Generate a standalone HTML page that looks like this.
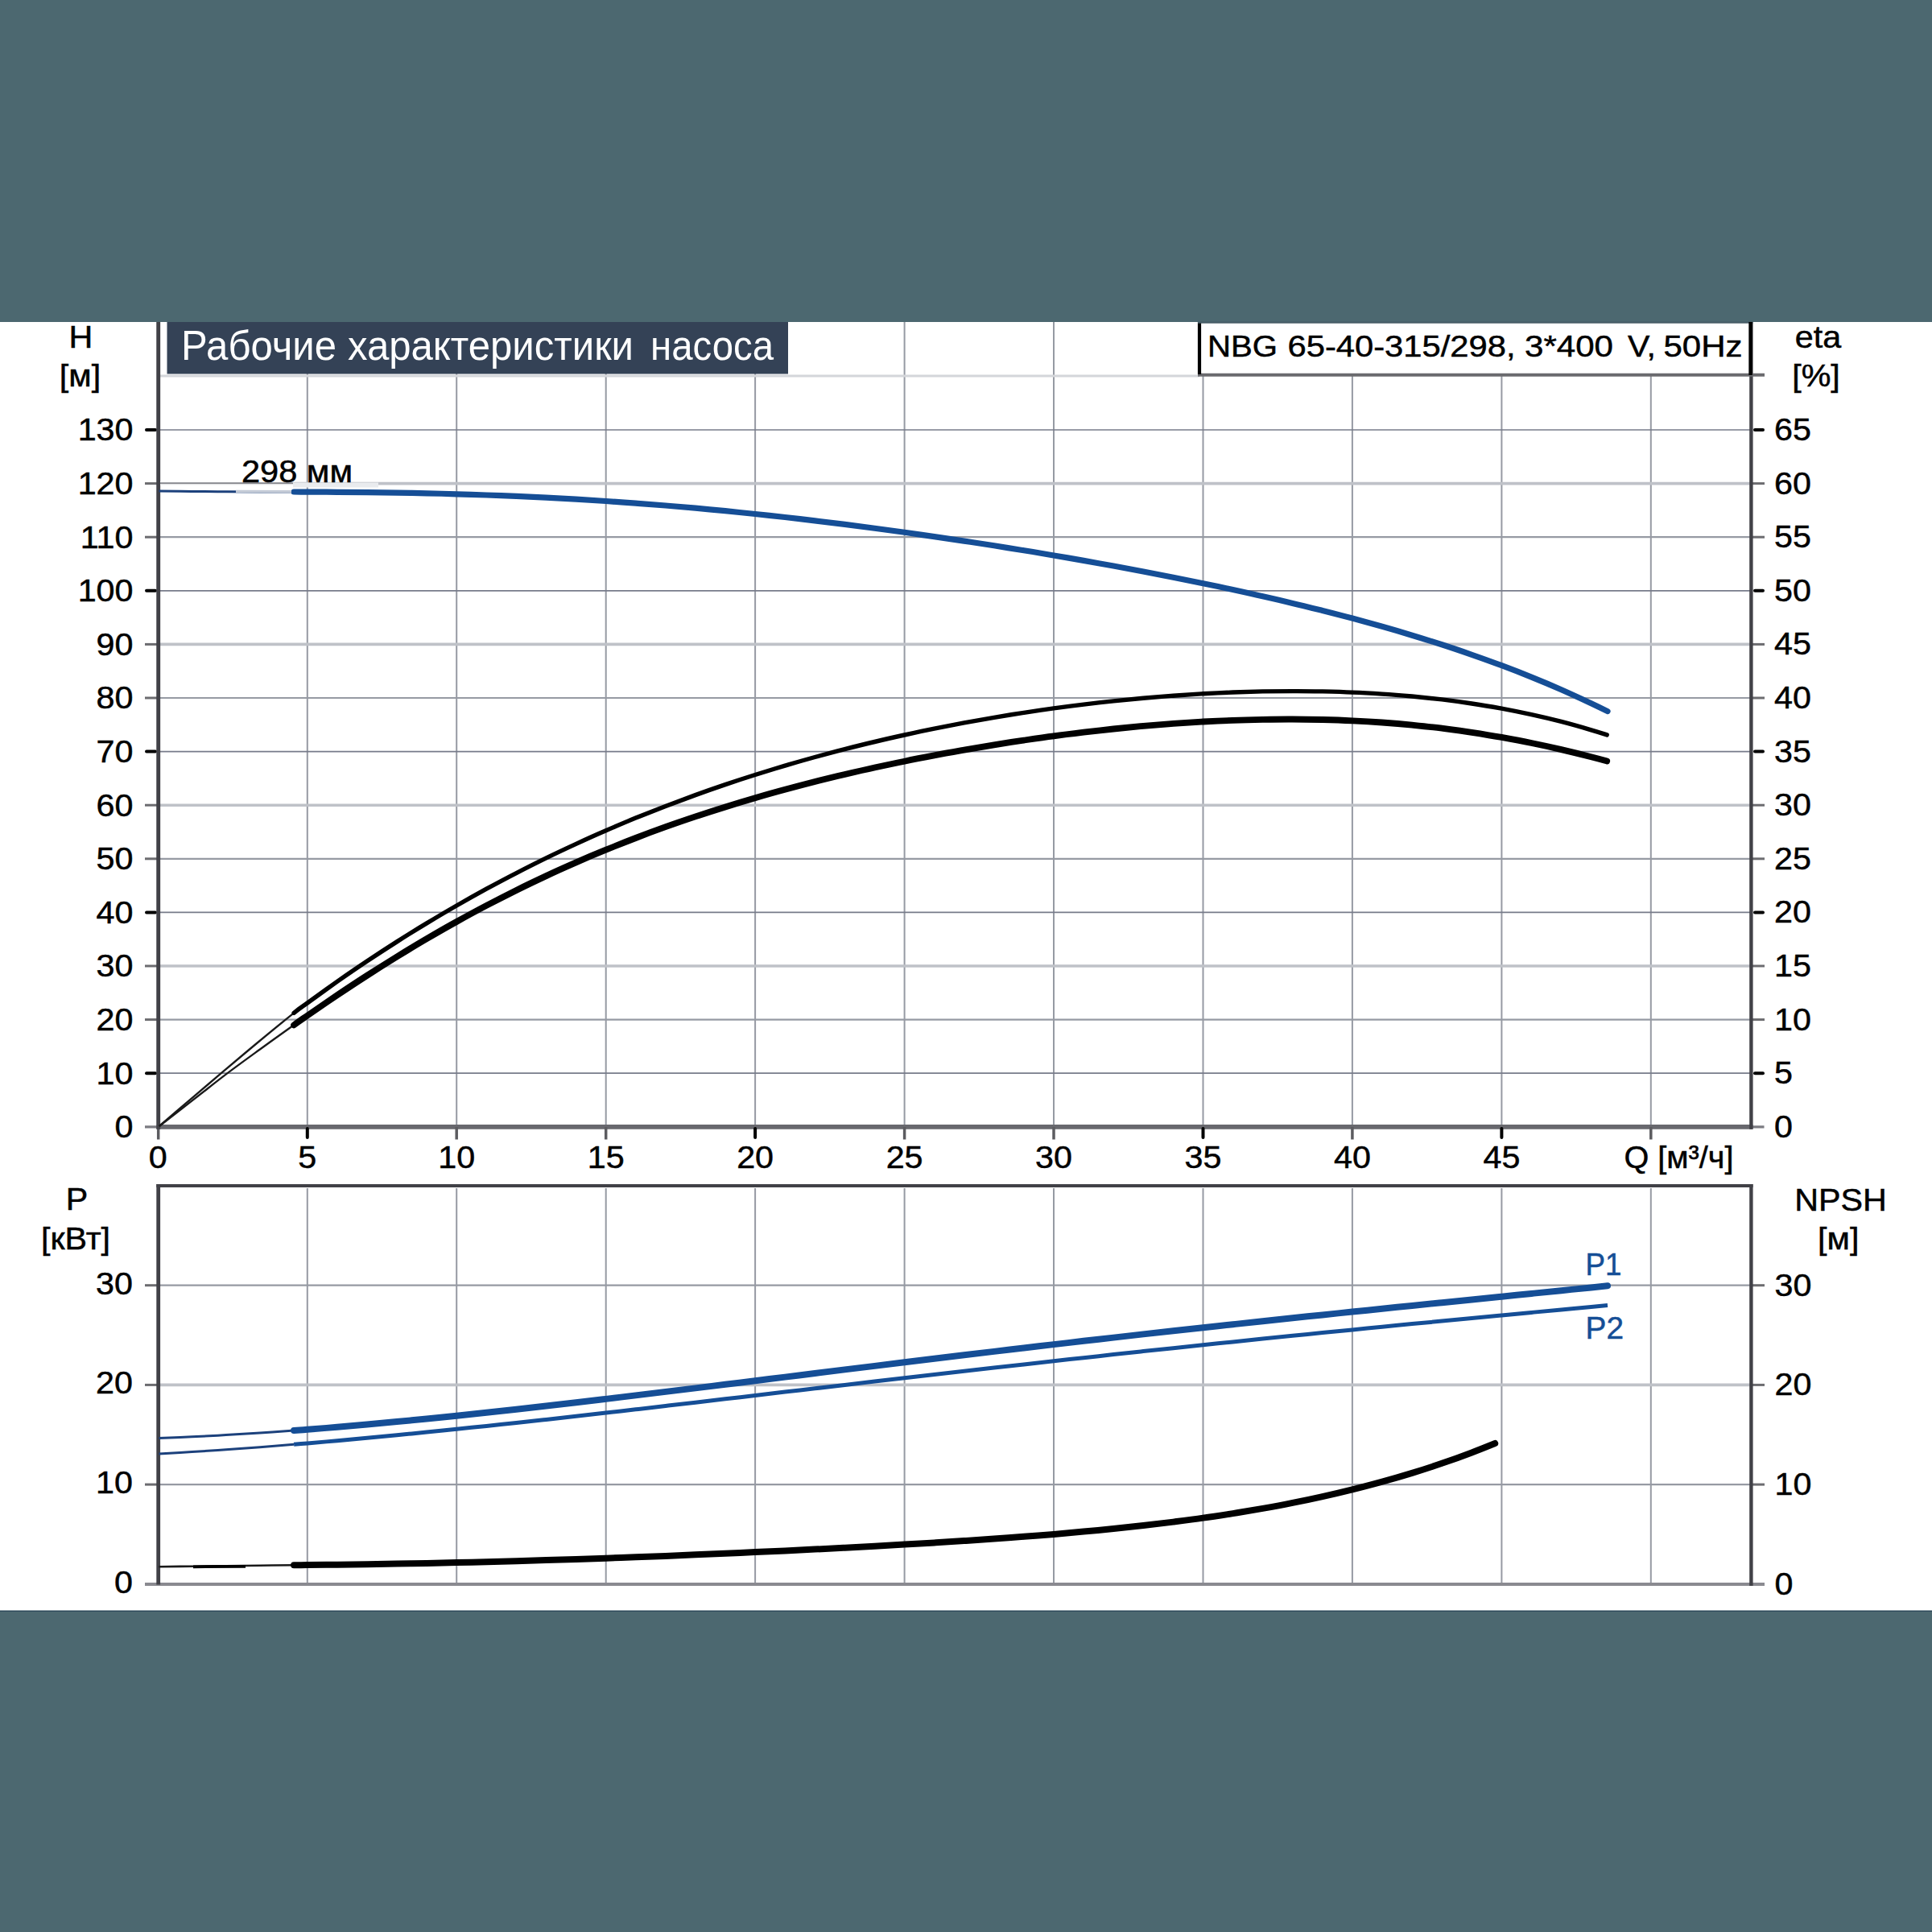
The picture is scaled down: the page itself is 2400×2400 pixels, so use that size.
<!DOCTYPE html>
<html><head><meta charset="utf-8"><title>Рабочие характеристики насоса</title>
<style>
html,body{margin:0;padding:0;background:#fff;}
body{width:2400px;height:2400px;overflow:hidden;}
svg{display:block;font-family:"Liberation Sans",sans-serif;}
</style></head><body>
<svg width="2400" height="2400" viewBox="0 0 2400 2400">
<rect x="0" y="0" width="2400" height="2400" fill="#fff"/>
<rect x="0" y="0" width="2400" height="400" fill="#4c6870"/>
<rect x="0" y="2000.7" width="2400" height="399.3" fill="#4c6870"/>
<rect x="0" y="2000.7" width="2400" height="1.2" fill="#2a4558"/>
<line x1="381.8" y1="400" x2="381.8" y2="1400" stroke="#969aa3" stroke-width="2"/>
<line x1="381.8" y1="1476" x2="381.8" y2="1968" stroke="#969aa3" stroke-width="2"/>
<line x1="567.2" y1="400" x2="567.2" y2="1400" stroke="#969aa3" stroke-width="2"/>
<line x1="567.2" y1="1476" x2="567.2" y2="1968" stroke="#969aa3" stroke-width="2"/>
<line x1="752.7" y1="400" x2="752.7" y2="1400" stroke="#969aa3" stroke-width="2"/>
<line x1="752.7" y1="1476" x2="752.7" y2="1968" stroke="#969aa3" stroke-width="2"/>
<line x1="938.1" y1="400" x2="938.1" y2="1400" stroke="#969aa3" stroke-width="2"/>
<line x1="938.1" y1="1476" x2="938.1" y2="1968" stroke="#969aa3" stroke-width="2"/>
<line x1="1123.6" y1="400" x2="1123.6" y2="1400" stroke="#969aa3" stroke-width="2"/>
<line x1="1123.6" y1="1476" x2="1123.6" y2="1968" stroke="#969aa3" stroke-width="2"/>
<line x1="1309.0" y1="400" x2="1309.0" y2="1400" stroke="#969aa3" stroke-width="2"/>
<line x1="1309.0" y1="1476" x2="1309.0" y2="1968" stroke="#969aa3" stroke-width="2"/>
<line x1="1494.5" y1="400" x2="1494.5" y2="1400" stroke="#969aa3" stroke-width="2"/>
<line x1="1494.5" y1="1476" x2="1494.5" y2="1968" stroke="#969aa3" stroke-width="2"/>
<line x1="1679.9" y1="400" x2="1679.9" y2="1400" stroke="#969aa3" stroke-width="2"/>
<line x1="1679.9" y1="1476" x2="1679.9" y2="1968" stroke="#969aa3" stroke-width="2"/>
<line x1="1865.4" y1="400" x2="1865.4" y2="1400" stroke="#969aa3" stroke-width="2"/>
<line x1="1865.4" y1="1476" x2="1865.4" y2="1968" stroke="#969aa3" stroke-width="2"/>
<line x1="2050.8" y1="400" x2="2050.8" y2="1400" stroke="#969aa3" stroke-width="2"/>
<line x1="2050.8" y1="1476" x2="2050.8" y2="1968" stroke="#969aa3" stroke-width="2"/>
<line x1="196.7" y1="467" x2="1490.0" y2="467" stroke="#d4d6da" stroke-width="3"/>
<line x1="196.7" y1="1333.2" x2="2175.4" y2="1333.2" stroke="#777b8a" stroke-width="1.7"/>
<line x1="182" y1="1333.2" x2="193" y2="1333.2" stroke="#000" stroke-width="4" stroke-linecap="round"/>
<line x1="2180" y1="1333.2" x2="2190" y2="1333.2" stroke="#000" stroke-width="4" stroke-linecap="round"/>
<line x1="196.7" y1="1266.6" x2="2175.4" y2="1266.6" stroke="#969aa3" stroke-width="2.2"/>
<line x1="180" y1="1266.6" x2="196.7" y2="1266.6" stroke="#6c6c70" stroke-width="3"/>
<line x1="2175.4" y1="1266.6" x2="2192" y2="1266.6" stroke="#6c6c70" stroke-width="3"/>
<line x1="196.7" y1="1200.0" x2="2175.4" y2="1200.0" stroke="#bfc2c8" stroke-width="3.6"/>
<line x1="180" y1="1200.0" x2="196.7" y2="1200.0" stroke="#6c6c70" stroke-width="3"/>
<line x1="2175.4" y1="1200.0" x2="2192" y2="1200.0" stroke="#6c6c70" stroke-width="3"/>
<line x1="196.7" y1="1133.4" x2="2175.4" y2="1133.4" stroke="#777b8a" stroke-width="1.7"/>
<line x1="182" y1="1133.4" x2="193" y2="1133.4" stroke="#000" stroke-width="4" stroke-linecap="round"/>
<line x1="2180" y1="1133.4" x2="2190" y2="1133.4" stroke="#000" stroke-width="4" stroke-linecap="round"/>
<line x1="196.7" y1="1066.8" x2="2175.4" y2="1066.8" stroke="#969aa3" stroke-width="2.2"/>
<line x1="180" y1="1066.8" x2="196.7" y2="1066.8" stroke="#6c6c70" stroke-width="3"/>
<line x1="2175.4" y1="1066.8" x2="2192" y2="1066.8" stroke="#6c6c70" stroke-width="3"/>
<line x1="196.7" y1="1000.2" x2="2175.4" y2="1000.2" stroke="#bfc2c8" stroke-width="3.6"/>
<line x1="180" y1="1000.2" x2="196.7" y2="1000.2" stroke="#6c6c70" stroke-width="3"/>
<line x1="2175.4" y1="1000.2" x2="2192" y2="1000.2" stroke="#6c6c70" stroke-width="3"/>
<line x1="196.7" y1="933.6" x2="2175.4" y2="933.6" stroke="#777b8a" stroke-width="1.7"/>
<line x1="182" y1="933.6" x2="193" y2="933.6" stroke="#000" stroke-width="4" stroke-linecap="round"/>
<line x1="2180" y1="933.6" x2="2190" y2="933.6" stroke="#000" stroke-width="4" stroke-linecap="round"/>
<line x1="196.7" y1="867.0" x2="2175.4" y2="867.0" stroke="#969aa3" stroke-width="2.2"/>
<line x1="180" y1="867.0" x2="196.7" y2="867.0" stroke="#6c6c70" stroke-width="3"/>
<line x1="2175.4" y1="867.0" x2="2192" y2="867.0" stroke="#6c6c70" stroke-width="3"/>
<line x1="196.7" y1="800.4" x2="2175.4" y2="800.4" stroke="#bfc2c8" stroke-width="3.6"/>
<line x1="180" y1="800.4" x2="196.7" y2="800.4" stroke="#6c6c70" stroke-width="3"/>
<line x1="2175.4" y1="800.4" x2="2192" y2="800.4" stroke="#6c6c70" stroke-width="3"/>
<line x1="196.7" y1="733.8" x2="2175.4" y2="733.8" stroke="#777b8a" stroke-width="1.7"/>
<line x1="182" y1="733.8" x2="193" y2="733.8" stroke="#000" stroke-width="4" stroke-linecap="round"/>
<line x1="2180" y1="733.8" x2="2190" y2="733.8" stroke="#000" stroke-width="4" stroke-linecap="round"/>
<line x1="196.7" y1="667.2" x2="2175.4" y2="667.2" stroke="#969aa3" stroke-width="2.2"/>
<line x1="180" y1="667.2" x2="196.7" y2="667.2" stroke="#6c6c70" stroke-width="3"/>
<line x1="2175.4" y1="667.2" x2="2192" y2="667.2" stroke="#6c6c70" stroke-width="3"/>
<line x1="196.7" y1="600.6" x2="2175.4" y2="600.6" stroke="#bfc2c8" stroke-width="3.6"/>
<line x1="180" y1="600.6" x2="196.7" y2="600.6" stroke="#6c6c70" stroke-width="3"/>
<line x1="2175.4" y1="600.6" x2="2192" y2="600.6" stroke="#6c6c70" stroke-width="3"/>
<line x1="196.7" y1="534.0" x2="2175.4" y2="534.0" stroke="#777b8a" stroke-width="1.7"/>
<line x1="182" y1="534.0" x2="193" y2="534.0" stroke="#000" stroke-width="4" stroke-linecap="round"/>
<line x1="2180" y1="534.0" x2="2190" y2="534.0" stroke="#000" stroke-width="4" stroke-linecap="round"/>
<line x1="196.7" y1="1844.1" x2="2175.4" y2="1844.1" stroke="#969aa3" stroke-width="2.2"/>
<line x1="180" y1="1844.1" x2="196.7" y2="1844.1" stroke="#6c6c70" stroke-width="3"/>
<line x1="2175.4" y1="1844.1" x2="2192" y2="1844.1" stroke="#6c6c70" stroke-width="3"/>
<line x1="196.7" y1="1720.4" x2="2175.4" y2="1720.4" stroke="#bfc2c8" stroke-width="3.6"/>
<line x1="180" y1="1720.4" x2="196.7" y2="1720.4" stroke="#6c6c70" stroke-width="3"/>
<line x1="2175.4" y1="1720.4" x2="2192" y2="1720.4" stroke="#6c6c70" stroke-width="3"/>
<line x1="196.7" y1="1596.7" x2="2175.4" y2="1596.7" stroke="#969aa3" stroke-width="2.2"/>
<line x1="180" y1="1596.7" x2="196.7" y2="1596.7" stroke="#6c6c70" stroke-width="3"/>
<line x1="2175.4" y1="1596.7" x2="2192" y2="1596.7" stroke="#6c6c70" stroke-width="3"/>
<line x1="180" y1="1399.9" x2="2191.5" y2="1399.9" stroke="#7c7c82" stroke-width="3.4"/>
<line x1="194.7" y1="1399.8" x2="2177.4" y2="1399.8" stroke="#68686e" stroke-width="5.8"/>
<line x1="196.7" y1="1400" x2="196.7" y2="1415.5" stroke="#5c5c60" stroke-width="3.5"/>
<line x1="381.8" y1="1402" x2="381.8" y2="1413" stroke="#000" stroke-width="4" stroke-linecap="round"/>
<line x1="567.2" y1="1400" x2="567.2" y2="1415.5" stroke="#5c5c60" stroke-width="3.5"/>
<line x1="752.7" y1="1400" x2="752.7" y2="1415.5" stroke="#5c5c60" stroke-width="3.5"/>
<line x1="938.1" y1="1402" x2="938.1" y2="1413" stroke="#000" stroke-width="4" stroke-linecap="round"/>
<line x1="1123.6" y1="1400" x2="1123.6" y2="1415.5" stroke="#5c5c60" stroke-width="3.5"/>
<line x1="1309.0" y1="1400" x2="1309.0" y2="1415.5" stroke="#5c5c60" stroke-width="3.5"/>
<line x1="1494.5" y1="1402" x2="1494.5" y2="1413" stroke="#000" stroke-width="4" stroke-linecap="round"/>
<line x1="1679.9" y1="1400" x2="1679.9" y2="1415.5" stroke="#5c5c60" stroke-width="3.5"/>
<line x1="1865.4" y1="1402" x2="1865.4" y2="1413" stroke="#000" stroke-width="4" stroke-linecap="round"/>
<line x1="2050.8" y1="1400" x2="2050.8" y2="1415.5" stroke="#5c5c60" stroke-width="3.5"/>
<line x1="196.7" y1="400" x2="196.7" y2="1402.7" stroke="#414147" stroke-width="4.9"/>
<line x1="2175.4" y1="400" x2="2175.4" y2="1402.7" stroke="#414147" stroke-width="4.4"/>
<line x1="180" y1="1968" x2="2192" y2="1968" stroke="#8a8a90" stroke-width="4.1"/>
<line x1="194.3" y1="1473" x2="2177.6" y2="1473" stroke="#414147" stroke-width="4"/>
<line x1="196.7" y1="1471" x2="196.7" y2="1968.5" stroke="#414147" stroke-width="4.8"/>
<line x1="2175.4" y1="1471" x2="2175.4" y2="1970" stroke="#414147" stroke-width="4.4"/>
<rect x="207.5" y="400" width="771.5" height="64.5" fill="#344256"/>
<text transform="translate(225.0 446.5) scale(1 1)" font-size="52" text-anchor="start" fill="#fff" textLength="193.0" lengthAdjust="spacingAndGlyphs">Рабочие</text>
<text transform="translate(432.0 446.5) scale(1 1)" font-size="52" text-anchor="start" fill="#fff" textLength="355.0" lengthAdjust="spacingAndGlyphs">характеристики</text>
<text transform="translate(808.0 446.5) scale(1 1)" font-size="52" text-anchor="start" fill="#fff" textLength="153.0" lengthAdjust="spacingAndGlyphs">насоса</text>
<rect x="1490" y="400" width="686" height="65.5" fill="#fff"/>
<line x1="1488" y1="465.7" x2="2192" y2="465.7" stroke="#6a6a6e" stroke-width="4"/>
<line x1="1490" y1="400" x2="1490" y2="465" stroke="#000" stroke-width="4.2"/>
<rect x="1488" y="399.5" width="689.5" height="2.2" fill="#465c66"/>
<line x1="2174.6" y1="400" x2="2174.6" y2="466" stroke="#000" stroke-width="4.5"/>
<text transform="translate(1500.0 443.0) scale(1 1)" font-size="37.5" text-anchor="start" fill="#000" stroke="#000" stroke-width="0.5" textLength="87.0" lengthAdjust="spacingAndGlyphs">NBG</text>
<text transform="translate(1599.5 443.0) scale(1 1)" font-size="37.5" text-anchor="start" fill="#000" stroke="#000" stroke-width="0.5" textLength="283.0" lengthAdjust="spacingAndGlyphs">65-40-315/298,</text>
<text transform="translate(1894.0 443.0) scale(1 1)" font-size="37.5" text-anchor="start" fill="#000" stroke="#000" stroke-width="0.5" textLength="110.0" lengthAdjust="spacingAndGlyphs">3*400</text>
<text transform="translate(2022.0 443.0) scale(1 1)" font-size="37.5" text-anchor="start" fill="#000" stroke="#000" stroke-width="0.5" textLength="35.0" lengthAdjust="spacingAndGlyphs">V,</text>
<text transform="translate(2066.5 443.0) scale(1 1)" font-size="37.5" text-anchor="start" fill="#000" stroke="#000" stroke-width="0.5" textLength="98.0" lengthAdjust="spacingAndGlyphs">50Hz</text>
<text transform="translate(165.5 1413.2) scale(1.045 1)" font-size="39.5" text-anchor="end" fill="#000" stroke="#000" stroke-width="0.5">0</text>
<text transform="translate(2204.0 1412.8) scale(1.045 1)" font-size="39.5" text-anchor="start" fill="#000" stroke="#000" stroke-width="0.5">0</text>
<text transform="translate(165.5 1346.6) scale(1.045 1)" font-size="39.5" text-anchor="end" fill="#000" stroke="#000" stroke-width="0.5">10</text>
<text transform="translate(2204.0 1346.2) scale(1.045 1)" font-size="39.5" text-anchor="start" fill="#000" stroke="#000" stroke-width="0.5">5</text>
<text transform="translate(165.5 1280.0) scale(1.045 1)" font-size="39.5" text-anchor="end" fill="#000" stroke="#000" stroke-width="0.5">20</text>
<text transform="translate(2204.0 1279.6) scale(1.045 1)" font-size="39.5" text-anchor="start" fill="#000" stroke="#000" stroke-width="0.5">10</text>
<text transform="translate(165.5 1213.4) scale(1.045 1)" font-size="39.5" text-anchor="end" fill="#000" stroke="#000" stroke-width="0.5">30</text>
<text transform="translate(2204.0 1213.0) scale(1.045 1)" font-size="39.5" text-anchor="start" fill="#000" stroke="#000" stroke-width="0.5">15</text>
<text transform="translate(165.5 1146.8) scale(1.045 1)" font-size="39.5" text-anchor="end" fill="#000" stroke="#000" stroke-width="0.5">40</text>
<text transform="translate(2204.0 1146.4) scale(1.045 1)" font-size="39.5" text-anchor="start" fill="#000" stroke="#000" stroke-width="0.5">20</text>
<text transform="translate(165.5 1080.2) scale(1.045 1)" font-size="39.5" text-anchor="end" fill="#000" stroke="#000" stroke-width="0.5">50</text>
<text transform="translate(2204.0 1079.8) scale(1.045 1)" font-size="39.5" text-anchor="start" fill="#000" stroke="#000" stroke-width="0.5">25</text>
<text transform="translate(165.5 1013.6) scale(1.045 1)" font-size="39.5" text-anchor="end" fill="#000" stroke="#000" stroke-width="0.5">60</text>
<text transform="translate(2204.0 1013.2) scale(1.045 1)" font-size="39.5" text-anchor="start" fill="#000" stroke="#000" stroke-width="0.5">30</text>
<text transform="translate(165.5 947.0) scale(1.045 1)" font-size="39.5" text-anchor="end" fill="#000" stroke="#000" stroke-width="0.5">70</text>
<text transform="translate(2204.0 946.6) scale(1.045 1)" font-size="39.5" text-anchor="start" fill="#000" stroke="#000" stroke-width="0.5">35</text>
<text transform="translate(165.5 880.4) scale(1.045 1)" font-size="39.5" text-anchor="end" fill="#000" stroke="#000" stroke-width="0.5">80</text>
<text transform="translate(2204.0 880.0) scale(1.045 1)" font-size="39.5" text-anchor="start" fill="#000" stroke="#000" stroke-width="0.5">40</text>
<text transform="translate(165.5 813.8) scale(1.045 1)" font-size="39.5" text-anchor="end" fill="#000" stroke="#000" stroke-width="0.5">90</text>
<text transform="translate(2204.0 813.4) scale(1.045 1)" font-size="39.5" text-anchor="start" fill="#000" stroke="#000" stroke-width="0.5">45</text>
<text transform="translate(165.5 747.2) scale(1.045 1)" font-size="39.5" text-anchor="end" fill="#000" stroke="#000" stroke-width="0.5">100</text>
<text transform="translate(2204.0 746.8) scale(1.045 1)" font-size="39.5" text-anchor="start" fill="#000" stroke="#000" stroke-width="0.5">50</text>
<text transform="translate(165.5 680.6) scale(1.045 1)" font-size="39.5" text-anchor="end" fill="#000" stroke="#000" stroke-width="0.5">110</text>
<text transform="translate(2204.0 680.2) scale(1.045 1)" font-size="39.5" text-anchor="start" fill="#000" stroke="#000" stroke-width="0.5">55</text>
<text transform="translate(165.5 614.0) scale(1.045 1)" font-size="39.5" text-anchor="end" fill="#000" stroke="#000" stroke-width="0.5">120</text>
<text transform="translate(2204.0 613.6) scale(1.045 1)" font-size="39.5" text-anchor="start" fill="#000" stroke="#000" stroke-width="0.5">60</text>
<text transform="translate(165.5 547.4) scale(1.045 1)" font-size="39.5" text-anchor="end" fill="#000" stroke="#000" stroke-width="0.5">130</text>
<text transform="translate(2204.0 547.0) scale(1.045 1)" font-size="39.5" text-anchor="start" fill="#000" stroke="#000" stroke-width="0.5">65</text>
<text transform="translate(165.0 1978.8) scale(1.045 1)" font-size="39.5" text-anchor="end" fill="#000" stroke="#000" stroke-width="0.5">0</text>
<text transform="translate(2204.5 1980.8) scale(1.045 1)" font-size="39.5" text-anchor="start" fill="#000" stroke="#000" stroke-width="0.5">0</text>
<text transform="translate(165.0 1855.1) scale(1.045 1)" font-size="39.5" text-anchor="end" fill="#000" stroke="#000" stroke-width="0.5">10</text>
<text transform="translate(2204.5 1857.1) scale(1.045 1)" font-size="39.5" text-anchor="start" fill="#000" stroke="#000" stroke-width="0.5">10</text>
<text transform="translate(165.0 1731.4) scale(1.045 1)" font-size="39.5" text-anchor="end" fill="#000" stroke="#000" stroke-width="0.5">20</text>
<text transform="translate(2204.5 1733.4) scale(1.045 1)" font-size="39.5" text-anchor="start" fill="#000" stroke="#000" stroke-width="0.5">20</text>
<text transform="translate(165.0 1607.7) scale(1.045 1)" font-size="39.5" text-anchor="end" fill="#000" stroke="#000" stroke-width="0.5">30</text>
<text transform="translate(2204.5 1609.7) scale(1.045 1)" font-size="39.5" text-anchor="start" fill="#000" stroke="#000" stroke-width="0.5">30</text>
<text transform="translate(196.3 1451.3) scale(1.045 1)" font-size="39.5" text-anchor="middle" fill="#000" stroke="#000" stroke-width="0.5">0</text>
<text transform="translate(381.8 1451.3) scale(1.045 1)" font-size="39.5" text-anchor="middle" fill="#000" stroke="#000" stroke-width="0.5">5</text>
<text transform="translate(567.2 1451.3) scale(1.045 1)" font-size="39.5" text-anchor="middle" fill="#000" stroke="#000" stroke-width="0.5">10</text>
<text transform="translate(752.7 1451.3) scale(1.045 1)" font-size="39.5" text-anchor="middle" fill="#000" stroke="#000" stroke-width="0.5">15</text>
<text transform="translate(938.1 1451.3) scale(1.045 1)" font-size="39.5" text-anchor="middle" fill="#000" stroke="#000" stroke-width="0.5">20</text>
<text transform="translate(1123.6 1451.3) scale(1.045 1)" font-size="39.5" text-anchor="middle" fill="#000" stroke="#000" stroke-width="0.5">25</text>
<text transform="translate(1309.0 1451.3) scale(1.045 1)" font-size="39.5" text-anchor="middle" fill="#000" stroke="#000" stroke-width="0.5">30</text>
<text transform="translate(1494.5 1451.3) scale(1.045 1)" font-size="39.5" text-anchor="middle" fill="#000" stroke="#000" stroke-width="0.5">35</text>
<text transform="translate(1679.9 1451.3) scale(1.045 1)" font-size="39.5" text-anchor="middle" fill="#000" stroke="#000" stroke-width="0.5">40</text>
<text transform="translate(1865.4 1451.3) scale(1.045 1)" font-size="39.5" text-anchor="middle" fill="#000" stroke="#000" stroke-width="0.5">45</text>
<text transform="translate(2017.5 1451.3) scale(1.045 1)" font-size="39.5" text-anchor="start" fill="#000" stroke="#000" stroke-width="0.5" textLength="130.1" lengthAdjust="spacingAndGlyphs">Q [м³/ч]</text>
<text transform="translate(100.5 431.5) scale(1.045 1)" font-size="39.5" text-anchor="middle" fill="#000" stroke="#000" stroke-width="0.5">H</text>
<text transform="translate(99.5 479.5) scale(1.045 1)" font-size="39.5" text-anchor="middle" fill="#000" stroke="#000" stroke-width="0.5">[м]</text>
<text transform="translate(2258.5 432.0) scale(1.045 1)" font-size="39.5" text-anchor="middle" fill="#000" stroke="#000" stroke-width="0.5">eta</text>
<text transform="translate(2256.0 479.8) scale(1.045 1)" font-size="39.5" text-anchor="middle" fill="#000" stroke="#000" stroke-width="0.5">[%]</text>
<text transform="translate(95.5 1502.5) scale(1.045 1)" font-size="39.5" text-anchor="middle" fill="#000" stroke="#000" stroke-width="0.5">P</text>
<text transform="translate(94.0 1552.0) scale(1.045 1)" font-size="39.5" text-anchor="middle" fill="#000" stroke="#000" stroke-width="0.5">[кВт]</text>
<text transform="translate(2286.5 1503.7) scale(1.045 1)" font-size="39.5" text-anchor="middle" fill="#000" stroke="#000" stroke-width="0.5">NPSH</text>
<text transform="translate(2283.7 1551.5) scale(1.045 1)" font-size="39.5" text-anchor="middle" fill="#000" stroke="#000" stroke-width="0.5">[м]</text>
<text transform="translate(1969.5 1583.5) scale(1 1)" font-size="39.5" text-anchor="start" fill="#154e96" stroke="#154e96" stroke-width="0.5" textLength="45.0" lengthAdjust="spacingAndGlyphs">P1</text>
<text transform="translate(1969.5 1663.0) scale(1 1)" font-size="39.5" text-anchor="start" fill="#154e96" stroke="#154e96" stroke-width="0.5" textLength="47.5" lengthAdjust="spacingAndGlyphs">P2</text>
<rect x="296" y="568" width="146" height="34" fill="#fff" fill-opacity="0.0"/>
<path d="M197.4 610.0 C204.3 610.1 224.6 610.4 238.5 610.5 C252.4 610.6 266.6 610.7 280.7 610.7 C294.7 610.8 308.8 610.8 322.9 610.9 C336.9 610.9 355.2 611.0 365.1 611.0" fill="none" stroke="#1c417c" stroke-width="3"/>
<path d="M365.1 611.0 C374.9 611.1 372.8 611.0 381.8 611.1 C390.7 611.1 406.5 611.2 418.8 611.3 C431.2 611.4 443.6 611.5 455.9 611.6 C468.3 611.8 480.7 611.9 493.0 612.1 C505.4 612.3 517.7 612.6 530.1 612.8 C542.5 613.1 554.8 613.4 567.2 613.8 C579.6 614.1 591.9 614.5 604.3 615.0 C616.7 615.4 629.0 615.9 641.4 616.4 C653.7 616.9 666.1 617.5 678.5 618.1 C690.8 618.8 703.2 619.4 715.6 620.2 C727.9 620.9 740.3 621.7 752.7 622.5 C765.0 623.3 777.4 624.2 789.7 625.1 C802.1 626.0 814.5 627.0 826.8 628.0 C839.2 629.0 851.6 630.1 863.9 631.2 C876.3 632.3 888.6 633.5 901.0 634.7 C913.4 635.9 925.7 637.2 938.1 638.5 C950.5 639.8 962.8 641.1 975.2 642.5 C987.6 643.9 999.9 645.4 1012.3 646.8 C1024.6 648.3 1037.0 649.8 1049.4 651.4 C1061.7 653.0 1074.1 654.6 1086.5 656.2 C1098.8 657.9 1111.2 659.6 1123.6 661.3 C1135.9 663.0 1148.3 664.8 1160.6 666.6 C1173.0 668.4 1185.4 670.2 1197.7 672.1 C1210.1 673.9 1222.5 675.9 1234.8 677.8 C1247.2 679.8 1259.5 681.7 1271.9 683.8 C1284.3 685.8 1296.6 687.8 1309.0 690.0 C1321.4 692.1 1333.7 694.2 1346.1 696.4 C1358.5 698.6 1370.8 700.8 1383.2 703.0 C1395.5 705.3 1407.9 707.6 1420.3 710.0 C1432.6 712.3 1445.0 714.7 1457.4 717.2 C1469.7 719.6 1482.1 722.1 1494.5 724.7 C1506.8 727.3 1519.2 729.9 1531.5 732.5 C1543.9 735.2 1556.3 737.9 1568.6 740.8 C1581.0 743.6 1593.4 746.4 1605.7 749.4 C1618.1 752.3 1630.4 755.4 1642.8 758.5 C1655.2 761.6 1667.5 764.8 1679.9 768.1 C1692.3 771.4 1704.6 774.8 1717.0 778.3 C1729.4 781.8 1741.7 785.4 1754.1 789.2 C1766.4 792.9 1778.8 796.8 1791.2 800.8 C1803.5 804.8 1815.9 809.0 1828.3 813.3 C1840.6 817.6 1853.0 822.0 1865.4 826.7 C1877.7 831.3 1890.1 836.1 1902.4 841.1 C1914.8 846.1 1927.2 851.3 1939.5 856.7 C1951.9 862.2 1967.0 869.2 1976.6 873.7 C1986.2 878.2 1993.6 881.9 1997.0 883.6" fill="none" stroke="#154e96" stroke-width="7.2" stroke-linecap="round"/>
<line x1="199" y1="600.3" x2="364" y2="600.3" stroke="#fff" stroke-width="5"/>
<line x1="199" y1="600.3" x2="364" y2="600.3" stroke="#85868c" stroke-width="2"/>
<line x1="293" y1="610.4" x2="362" y2="610.7" stroke="#c3cad6" stroke-width="3.4"/>
<line x1="364" y1="602.5" x2="470" y2="602.5" stroke="#e9ebee" stroke-width="6"/>
<path d="M197.8 1399.0 C204.1 1393.6 222.8 1377.4 235.5 1366.6 C248.2 1355.8 260.0 1345.7 273.9 1333.9 C287.8 1322.1 303.8 1308.6 319.0 1296.0 C334.2 1283.4 354.6 1266.7 365.1 1258.4" fill="none" stroke="#1a1a1a" stroke-width="2.4"/>
<path d="M365.1 1258.4 C375.5 1250.0 372.8 1252.5 381.8 1246.0 C390.7 1239.5 406.5 1228.1 418.8 1219.4 C431.2 1210.8 443.6 1202.3 455.9 1194.1 C468.3 1185.8 480.7 1177.7 493.0 1169.9 C505.4 1162.0 517.7 1154.3 530.1 1146.9 C542.5 1139.4 554.8 1132.1 567.2 1125.0 C579.6 1117.9 591.9 1111.0 604.3 1104.2 C616.7 1097.5 629.0 1090.9 641.4 1084.6 C653.7 1078.2 666.1 1072.0 678.5 1065.9 C690.8 1059.9 703.2 1054.1 715.6 1048.4 C727.9 1042.7 740.3 1037.1 752.7 1031.8 C765.0 1026.4 777.4 1021.2 789.7 1016.1 C802.1 1011.1 814.5 1006.2 826.8 1001.4 C839.2 996.7 851.6 992.1 863.9 987.6 C876.3 983.1 888.6 978.8 901.0 974.6 C913.4 970.4 925.7 966.4 938.1 962.5 C950.5 958.6 962.8 954.8 975.2 951.1 C987.6 947.5 999.9 943.9 1012.3 940.5 C1024.6 937.1 1037.0 933.8 1049.4 930.6 C1061.7 927.5 1074.1 924.4 1086.5 921.5 C1098.8 918.5 1111.2 915.7 1123.6 913.0 C1135.9 910.3 1148.3 907.6 1160.6 905.1 C1173.0 902.6 1185.4 900.2 1197.7 897.9 C1210.1 895.6 1222.5 893.4 1234.8 891.3 C1247.2 889.2 1259.5 887.2 1271.9 885.3 C1284.3 883.4 1296.6 881.6 1309.0 879.9 C1321.4 878.2 1333.7 876.6 1346.1 875.1 C1358.5 873.6 1370.8 872.2 1383.2 870.9 C1395.5 869.6 1407.9 868.4 1420.3 867.2 C1432.6 866.1 1445.0 865.1 1457.4 864.2 C1469.7 863.3 1482.1 862.5 1494.5 861.8 C1506.8 861.1 1519.2 860.5 1531.5 860.0 C1543.9 859.6 1556.3 859.2 1568.6 858.9 C1581.0 858.7 1593.4 858.6 1605.7 858.6 C1618.1 858.5 1630.4 858.7 1642.8 858.9 C1655.2 859.2 1667.5 859.5 1679.9 860.1 C1692.3 860.6 1704.6 861.3 1717.0 862.1 C1729.4 862.9 1741.7 863.9 1754.1 865.0 C1766.4 866.2 1778.8 867.5 1791.2 868.9 C1803.5 870.4 1815.9 872.1 1828.3 874.0 C1840.6 875.8 1853.0 877.9 1865.4 880.1 C1877.7 882.4 1890.1 884.9 1902.4 887.6 C1914.8 890.3 1927.2 893.2 1939.5 896.4 C1951.9 899.6 1967.2 904.0 1976.6 906.8 C1986.1 909.5 1992.9 911.9 1996.2 912.9" fill="none" stroke="#000" stroke-width="5.4" stroke-linecap="round"/>
<path d="M197.8 1399.0 C204.8 1393.6 225.5 1377.4 239.5 1366.6 C253.5 1355.8 267.7 1344.4 281.6 1333.9 C295.5 1323.4 309.1 1313.6 323.0 1303.5 C336.9 1293.4 355.3 1280.3 365.1 1273.3" fill="none" stroke="#1a1a1a" stroke-width="2.4"/>
<path d="M365.1 1273.3 C374.9 1266.3 372.8 1267.8 381.8 1261.6 C390.7 1255.4 406.5 1244.6 418.8 1236.3 C431.2 1228.0 443.6 1219.8 455.9 1211.9 C468.3 1203.9 480.7 1196.1 493.0 1188.5 C505.4 1180.9 517.7 1173.4 530.1 1166.2 C542.5 1158.9 554.8 1151.8 567.2 1145.0 C579.6 1138.1 591.9 1131.4 604.3 1124.9 C616.7 1118.4 629.0 1112.1 641.4 1105.9 C653.7 1099.8 666.1 1093.9 678.5 1088.1 C690.8 1082.3 703.2 1076.8 715.6 1071.4 C727.9 1065.9 740.3 1060.7 752.7 1055.7 C765.0 1050.6 777.4 1045.7 789.7 1041.0 C802.1 1036.2 814.5 1031.6 826.8 1027.2 C839.2 1022.8 851.6 1018.5 863.9 1014.4 C876.3 1010.2 888.6 1006.2 901.0 1002.4 C913.4 998.5 925.7 994.8 938.1 991.2 C950.5 987.6 962.8 984.1 975.2 980.8 C987.6 977.4 999.9 974.2 1012.3 971.0 C1024.6 967.9 1037.0 964.9 1049.4 962.0 C1061.7 959.1 1074.1 956.2 1086.5 953.5 C1098.8 950.8 1111.2 948.2 1123.6 945.7 C1135.9 943.1 1148.3 940.7 1160.6 938.4 C1173.0 936.0 1185.4 933.8 1197.7 931.6 C1210.1 929.4 1222.5 927.3 1234.8 925.3 C1247.2 923.3 1259.5 921.4 1271.9 919.6 C1284.3 917.8 1296.6 916.0 1309.0 914.4 C1321.4 912.7 1333.7 911.2 1346.1 909.7 C1358.5 908.2 1370.8 906.8 1383.2 905.5 C1395.5 904.2 1407.9 903.0 1420.3 901.9 C1432.6 900.8 1445.0 899.8 1457.4 898.9 C1469.7 898.0 1482.1 897.2 1494.5 896.5 C1506.8 895.9 1519.2 895.3 1531.5 894.8 C1543.9 894.3 1556.3 894.0 1568.6 893.8 C1581.0 893.6 1593.4 893.4 1605.7 893.5 C1618.1 893.5 1630.4 893.7 1642.8 894.0 C1655.2 894.3 1667.5 894.7 1679.9 895.3 C1692.3 895.9 1704.6 896.6 1717.0 897.5 C1729.4 898.4 1741.7 899.4 1754.1 900.6 C1766.4 901.9 1778.8 903.2 1791.2 904.7 C1803.5 906.3 1815.9 907.9 1828.3 909.8 C1840.6 911.7 1853.0 913.7 1865.4 915.9 C1877.7 918.1 1890.1 920.4 1902.4 923.0 C1914.8 925.5 1927.2 928.2 1939.5 931.1 C1951.9 934.0 1967.2 937.8 1976.6 940.2 C1986.1 942.6 1992.9 944.5 1996.2 945.4" fill="none" stroke="#000" stroke-width="7.8" stroke-linecap="round"/>
<path d="M197.4 1786.5 C204.3 1786.2 224.6 1785.4 238.5 1784.8 C252.4 1784.1 266.6 1783.4 280.7 1782.6 C294.7 1781.8 308.8 1780.9 322.9 1780.0 C336.9 1779.1 355.2 1777.7 365.1 1777.0" fill="none" stroke="#1c417c" stroke-width="3"/>
<path d="M365.1 1777.0 C374.9 1776.3 372.8 1776.5 381.8 1775.8 C390.7 1775.1 406.5 1773.8 418.8 1772.8 C431.2 1771.7 443.6 1770.7 455.9 1769.5 C468.3 1768.4 480.7 1767.3 493.0 1766.1 C505.4 1764.9 517.7 1763.7 530.1 1762.5 C542.5 1761.3 554.8 1760.0 567.2 1758.7 C579.6 1757.4 591.9 1756.1 604.3 1754.8 C616.7 1753.4 629.0 1752.1 641.4 1750.7 C653.7 1749.3 666.1 1747.9 678.5 1746.5 C690.8 1745.1 703.2 1743.7 715.6 1742.2 C727.9 1740.8 740.3 1739.3 752.7 1737.9 C765.0 1736.4 777.4 1734.9 789.7 1733.4 C802.1 1731.9 814.5 1730.4 826.8 1728.9 C839.2 1727.4 851.6 1725.9 863.9 1724.4 C876.3 1722.9 888.6 1721.3 901.0 1719.8 C913.4 1718.3 925.7 1716.8 938.1 1715.2 C950.5 1713.7 962.8 1712.2 975.2 1710.6 C987.6 1709.1 999.9 1707.6 1012.3 1706.0 C1024.6 1704.5 1037.0 1703.0 1049.4 1701.4 C1061.7 1699.9 1074.1 1698.4 1086.5 1696.9 C1098.8 1695.3 1111.2 1693.8 1123.6 1692.3 C1135.9 1690.8 1148.3 1689.3 1160.6 1687.8 C1173.0 1686.3 1185.4 1684.8 1197.7 1683.3 C1210.1 1681.8 1222.5 1680.3 1234.8 1678.9 C1247.2 1677.4 1259.5 1675.9 1271.9 1674.5 C1284.3 1673.0 1296.6 1671.6 1309.0 1670.1 C1321.4 1668.7 1333.7 1667.3 1346.1 1665.8 C1358.5 1664.4 1370.8 1663.0 1383.2 1661.6 C1395.5 1660.2 1407.9 1658.8 1420.3 1657.4 C1432.6 1656.0 1445.0 1654.7 1457.4 1653.3 C1469.7 1651.9 1482.1 1650.6 1494.5 1649.2 C1506.8 1647.9 1519.2 1646.5 1531.5 1645.2 C1543.9 1643.9 1556.3 1642.5 1568.6 1641.2 C1581.0 1639.9 1593.4 1638.6 1605.7 1637.3 C1618.1 1636.0 1630.4 1634.7 1642.8 1633.4 C1655.2 1632.1 1667.5 1630.8 1679.9 1629.6 C1692.3 1628.3 1704.6 1627.0 1717.0 1625.7 C1729.4 1624.5 1741.7 1623.2 1754.1 1622.0 C1766.4 1620.7 1778.8 1619.4 1791.2 1618.2 C1803.5 1616.9 1815.9 1615.7 1828.3 1614.4 C1840.6 1613.2 1853.0 1611.9 1865.4 1610.7 C1877.7 1609.4 1890.1 1608.2 1902.4 1606.9 C1914.8 1605.7 1927.2 1604.4 1939.5 1603.2 C1951.9 1601.9 1967.0 1600.4 1976.6 1599.4 C1986.2 1598.4 1993.6 1597.6 1997.0 1597.3" fill="none" stroke="#154e96" stroke-width="8" stroke-linecap="round"/>
<path d="M197.4 1806.1 C204.3 1805.6 224.6 1804.5 238.5 1803.6 C252.4 1802.7 266.6 1801.8 280.7 1800.8 C294.7 1799.8 308.8 1798.8 322.9 1797.7 C336.9 1796.6 355.2 1795.1 365.1 1794.3" fill="none" stroke="#1c417c" stroke-width="3"/>
<path d="M365.1 1794.3 C374.9 1793.5 372.8 1793.7 381.8 1792.9 C390.7 1792.2 406.5 1790.8 418.8 1789.7 C431.2 1788.6 443.6 1787.5 455.9 1786.3 C468.3 1785.1 480.7 1784.0 493.0 1782.8 C505.4 1781.6 517.7 1780.3 530.1 1779.1 C542.5 1777.9 554.8 1776.6 567.2 1775.3 C579.6 1774.0 591.9 1772.7 604.3 1771.4 C616.7 1770.1 629.0 1768.8 641.4 1767.4 C653.7 1766.1 666.1 1764.7 678.5 1763.4 C690.8 1762.0 703.2 1760.6 715.6 1759.2 C727.9 1757.8 740.3 1756.4 752.7 1755.0 C765.0 1753.6 777.4 1752.2 789.7 1750.8 C802.1 1749.4 814.5 1747.9 826.8 1746.5 C839.2 1745.1 851.6 1743.6 863.9 1742.2 C876.3 1740.7 888.6 1739.3 901.0 1737.8 C913.4 1736.4 925.7 1734.9 938.1 1733.5 C950.5 1732.0 962.8 1730.6 975.2 1729.1 C987.6 1727.7 999.9 1726.2 1012.3 1724.8 C1024.6 1723.3 1037.0 1721.9 1049.4 1720.5 C1061.7 1719.0 1074.1 1717.6 1086.5 1716.1 C1098.8 1714.7 1111.2 1713.3 1123.6 1711.8 C1135.9 1710.4 1148.3 1709.0 1160.6 1707.5 C1173.0 1706.1 1185.4 1704.7 1197.7 1703.3 C1210.1 1701.9 1222.5 1700.5 1234.8 1699.1 C1247.2 1697.7 1259.5 1696.3 1271.9 1694.9 C1284.3 1693.5 1296.6 1692.1 1309.0 1690.8 C1321.4 1689.4 1333.7 1688.0 1346.1 1686.7 C1358.5 1685.3 1370.8 1684.0 1383.2 1682.6 C1395.5 1681.3 1407.9 1679.9 1420.3 1678.6 C1432.6 1677.3 1445.0 1676.0 1457.4 1674.7 C1469.7 1673.4 1482.1 1672.1 1494.5 1670.8 C1506.8 1669.5 1519.2 1668.2 1531.5 1666.9 C1543.9 1665.6 1556.3 1664.4 1568.6 1663.1 C1581.0 1661.8 1593.4 1660.6 1605.7 1659.3 C1618.1 1658.1 1630.4 1656.8 1642.8 1655.6 C1655.2 1654.4 1667.5 1653.1 1679.9 1651.9 C1692.3 1650.7 1704.6 1649.5 1717.0 1648.3 C1729.4 1647.0 1741.7 1645.8 1754.1 1644.6 C1766.4 1643.4 1778.8 1642.3 1791.2 1641.1 C1803.5 1639.9 1815.9 1638.7 1828.3 1637.5 C1840.6 1636.3 1853.0 1635.1 1865.4 1634.0 C1877.7 1632.8 1890.1 1631.6 1902.4 1630.4 C1914.8 1629.3 1927.2 1628.1 1939.5 1626.9 C1951.9 1625.8 1967.0 1624.3 1976.6 1623.4 C1986.2 1622.5 1993.6 1621.8 1997.0 1621.5" fill="none" stroke="#154e96" stroke-width="5" stroke-linecap="butt"/>
<path d="M197.4 1946.3 C204.3 1946.2 224.6 1945.8 238.5 1945.7 C252.4 1945.5 266.6 1945.3 280.7 1945.2 C294.7 1945.0 308.8 1944.9 322.9 1944.7 C336.9 1944.6 355.2 1944.4 365.1 1944.3" fill="none" stroke="#1a1a1a" stroke-width="2.6"/>
<path d="M365.1 1944.3 C374.9 1944.2 372.8 1944.2 381.8 1944.1 C390.7 1944.0 406.5 1943.8 418.8 1943.7 C431.2 1943.5 443.6 1943.3 455.9 1943.2 C468.3 1943.0 480.7 1942.8 493.0 1942.6 C505.4 1942.4 517.7 1942.1 530.1 1941.9 C542.5 1941.6 554.8 1941.4 567.2 1941.1 C579.6 1940.8 591.9 1940.5 604.3 1940.2 C616.7 1939.9 629.0 1939.6 641.4 1939.2 C653.7 1938.9 666.1 1938.5 678.5 1938.1 C690.8 1937.8 703.2 1937.4 715.6 1936.9 C727.9 1936.5 740.3 1936.1 752.7 1935.7 C765.0 1935.2 777.4 1934.8 789.7 1934.3 C802.1 1933.8 814.5 1933.3 826.8 1932.9 C839.2 1932.4 851.6 1931.9 863.9 1931.3 C876.3 1930.8 888.6 1930.3 901.0 1929.8 C913.4 1929.2 925.7 1928.7 938.1 1928.1 C950.5 1927.5 962.8 1927.0 975.2 1926.4 C987.6 1925.8 999.9 1925.2 1012.3 1924.6 C1024.6 1924.0 1037.0 1923.3 1049.4 1922.7 C1061.7 1922.0 1074.1 1921.4 1086.5 1920.7 C1098.8 1920.0 1111.2 1919.3 1123.6 1918.6 C1135.9 1917.9 1148.3 1917.2 1160.6 1916.4 C1173.0 1915.7 1185.4 1914.9 1197.7 1914.1 C1210.1 1913.3 1222.5 1912.4 1234.8 1911.6 C1247.2 1910.7 1259.5 1909.8 1271.9 1908.8 C1284.3 1907.9 1296.6 1906.9 1309.0 1905.9 C1321.4 1904.8 1333.7 1903.7 1346.1 1902.6 C1358.5 1901.4 1370.8 1900.3 1383.2 1899.0 C1395.5 1897.7 1407.9 1896.4 1420.3 1895.0 C1432.6 1893.6 1445.0 1892.1 1457.4 1890.6 C1469.7 1889.0 1482.1 1887.4 1494.5 1885.6 C1506.8 1883.9 1519.2 1882.0 1531.5 1880.1 C1543.9 1878.1 1556.3 1876.0 1568.6 1873.9 C1581.0 1871.7 1593.4 1869.4 1605.7 1866.9 C1618.1 1864.5 1630.4 1861.9 1642.8 1859.1 C1655.2 1856.4 1667.5 1853.5 1679.9 1850.4 C1692.3 1847.4 1704.6 1844.1 1717.0 1840.7 C1729.4 1837.3 1741.7 1833.7 1754.1 1829.9 C1766.4 1826.1 1778.8 1822.1 1791.2 1817.8 C1803.5 1813.6 1817.3 1808.6 1828.3 1804.4 C1839.3 1800.3 1852.4 1794.9 1857.2 1793.0" fill="none" stroke="#000" stroke-width="8" stroke-linecap="round"/>
<line x1="240" y1="1946.3" x2="305" y2="1945.9" stroke="#000" stroke-width="3.8"/>
<text transform="translate(300.0 599.0) scale(1 1)" font-size="38" text-anchor="start" fill="#000" stroke="#000" stroke-width="0.5" textLength="138.0" lengthAdjust="spacingAndGlyphs">298 мм</text>
</svg>
</body></html>
